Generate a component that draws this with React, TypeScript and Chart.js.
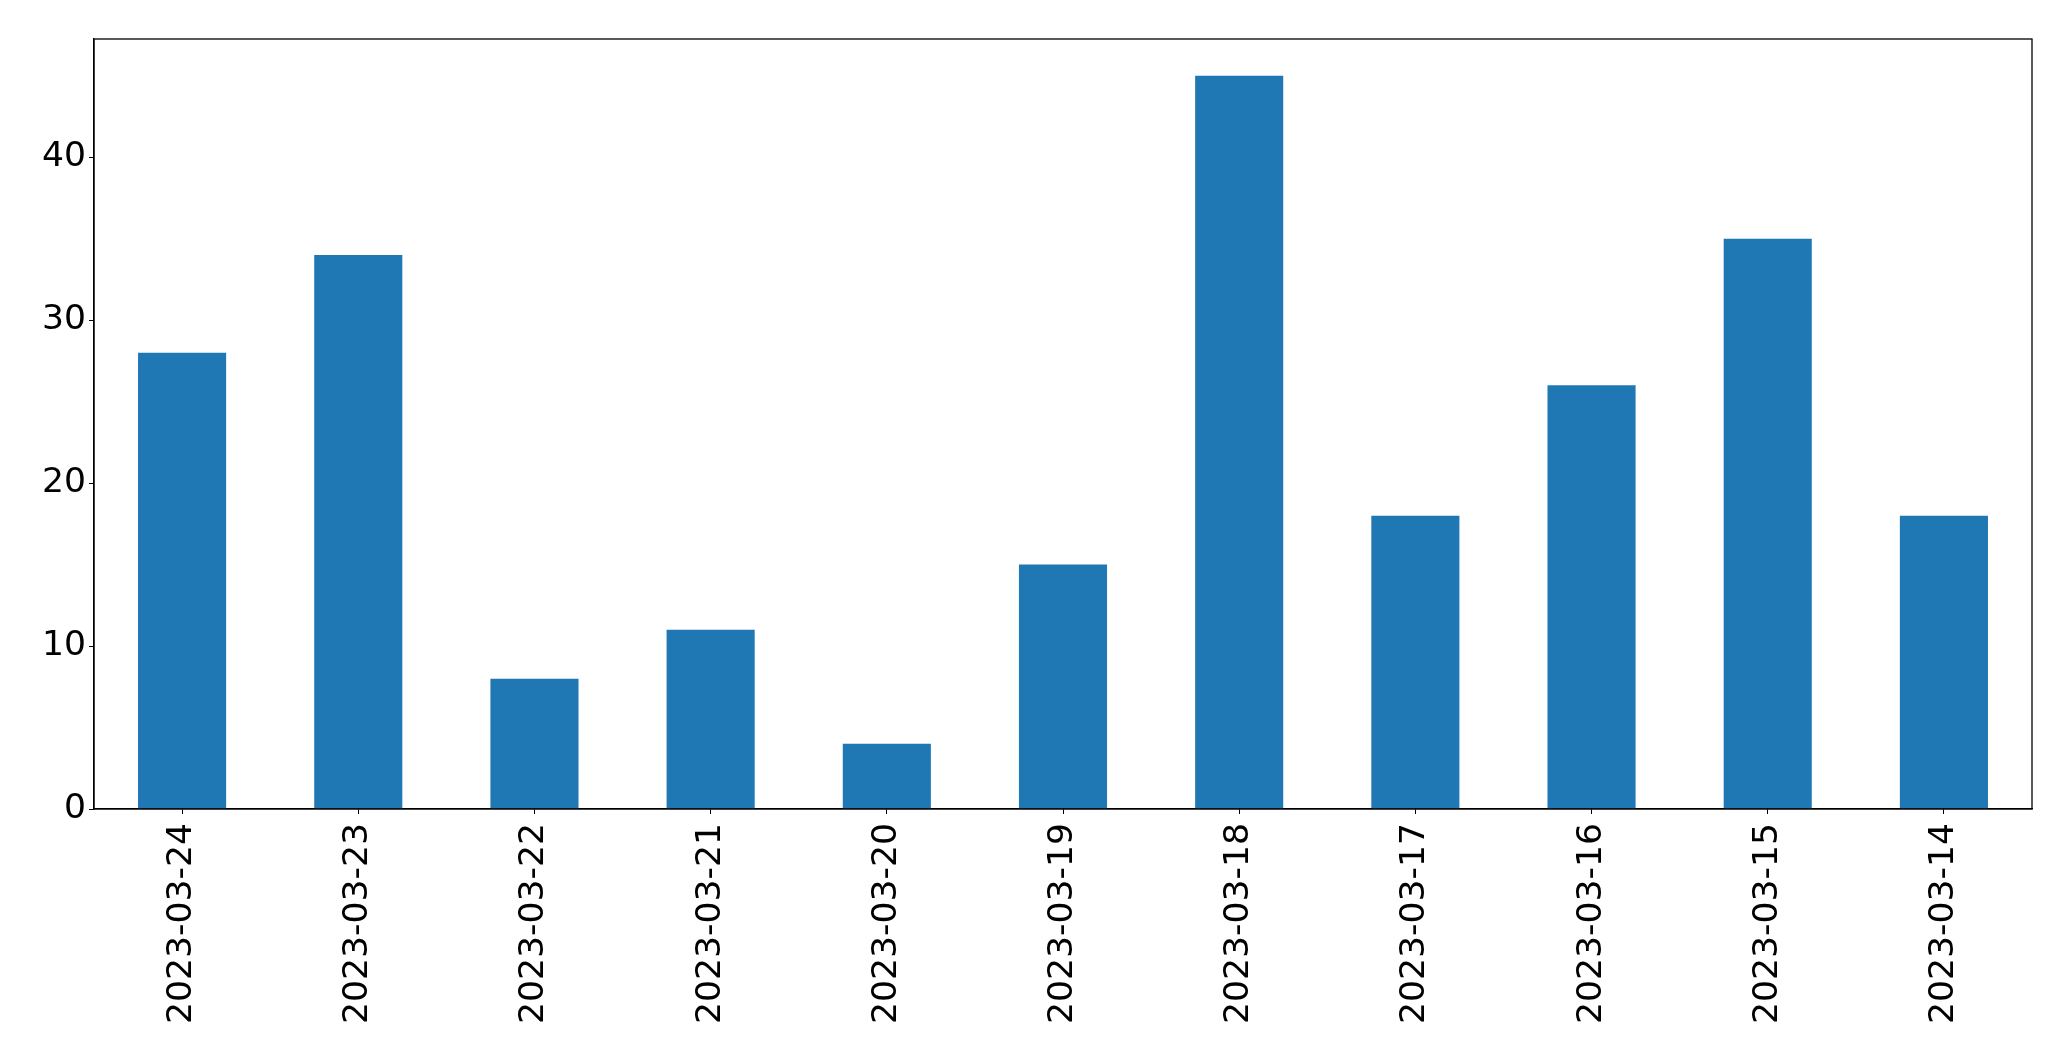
import React, { useEffect, useRef } from "react";
import { Chart, registerables } from "chart.js";

Chart.register(...registerables);

const categories = [
  "2023-03-24", "2023-03-23", "2023-03-22", "2023-03-21", "2023-03-20", "2023-03-19",
  "2023-03-18", "2023-03-17", "2023-03-16", "2023-03-15", "2023-03-14",
];
const values = [28, 34, 8, 11, 4, 15, 45, 18, 26, 35, 18];
const yMax = 47.25;

const W = 2071;
const H = 1061;
const LEFT = 94;
const TOP = 39;
const RIGHT = 39;
const BOTTOM_AXIS = 809;

const borderPlugin = {
  id: "frameBorder",
  afterDraw(chart: any) {
    const { ctx, chartArea } = chart;
    ctx.save();
    ctx.strokeStyle = "#000";
    ctx.lineWidth = 1.3;
    ctx.strokeRect(chartArea.left, chartArea.top, chartArea.right - chartArea.left, chartArea.bottom - chartArea.top);
    ctx.restore();
  },
};

export default function App() {
  const ref = useRef<HTMLCanvasElement>(null);
  useEffect(() => {
    if (!ref.current) return;
    const font = { family: "DejaVu Sans", size: 34.6 };
    const chart = new Chart(ref.current, {
      type: "bar",
      data: {
        labels: categories,
        datasets: [
          {
            data: values,
            backgroundColor: "#1f77b4",
            barPercentage: 0.5,
            categoryPercentage: 1,
          },
        ],
      },
      plugins: [borderPlugin],
      options: {
        responsive: false,
        animation: false,
        devicePixelRatio: 1,
        layout: { padding: { top: TOP, right: RIGHT, left: 0, bottom: 0 } },
        plugins: { legend: { display: false }, tooltip: { enabled: false } },
        scales: {
          x: {
            offset: true,
            grid: { display: true, drawOnChartArea: false, drawTicks: true, tickLength: 5, color: "#000", offset: false },
            border: { display: true, color: "#000", width: 1.3 },
            ticks: { color: "#000", font, minRotation: 90, maxRotation: 90, padding: 9, autoSkip: false },
            afterFit: (s: any) => {
              s.height = H - BOTTOM_AXIS;
            },
          },
          y: {
            min: 0,
            max: yMax,
            grid: { display: true, drawOnChartArea: false, drawTicks: true, tickLength: 5, color: "#000" },
            border: { display: true, color: "#000", width: 1.3 },
            ticks: { color: "#000", font, stepSize: 10, includeBounds: false, padding: 3 },
            afterFit: (s: any) => {
              s.width = LEFT;
            },
          },
        },
      },
    });
    return () => chart.destroy();
  }, []);
  return (
    <div style={{ position: "fixed", left: 0, top: 0, width: W, height: H, background: "#fff" }}>
      <canvas ref={ref} width={W} height={H} style={{ width: W, height: H, display: "block" }} />
    </div>
  );
}
